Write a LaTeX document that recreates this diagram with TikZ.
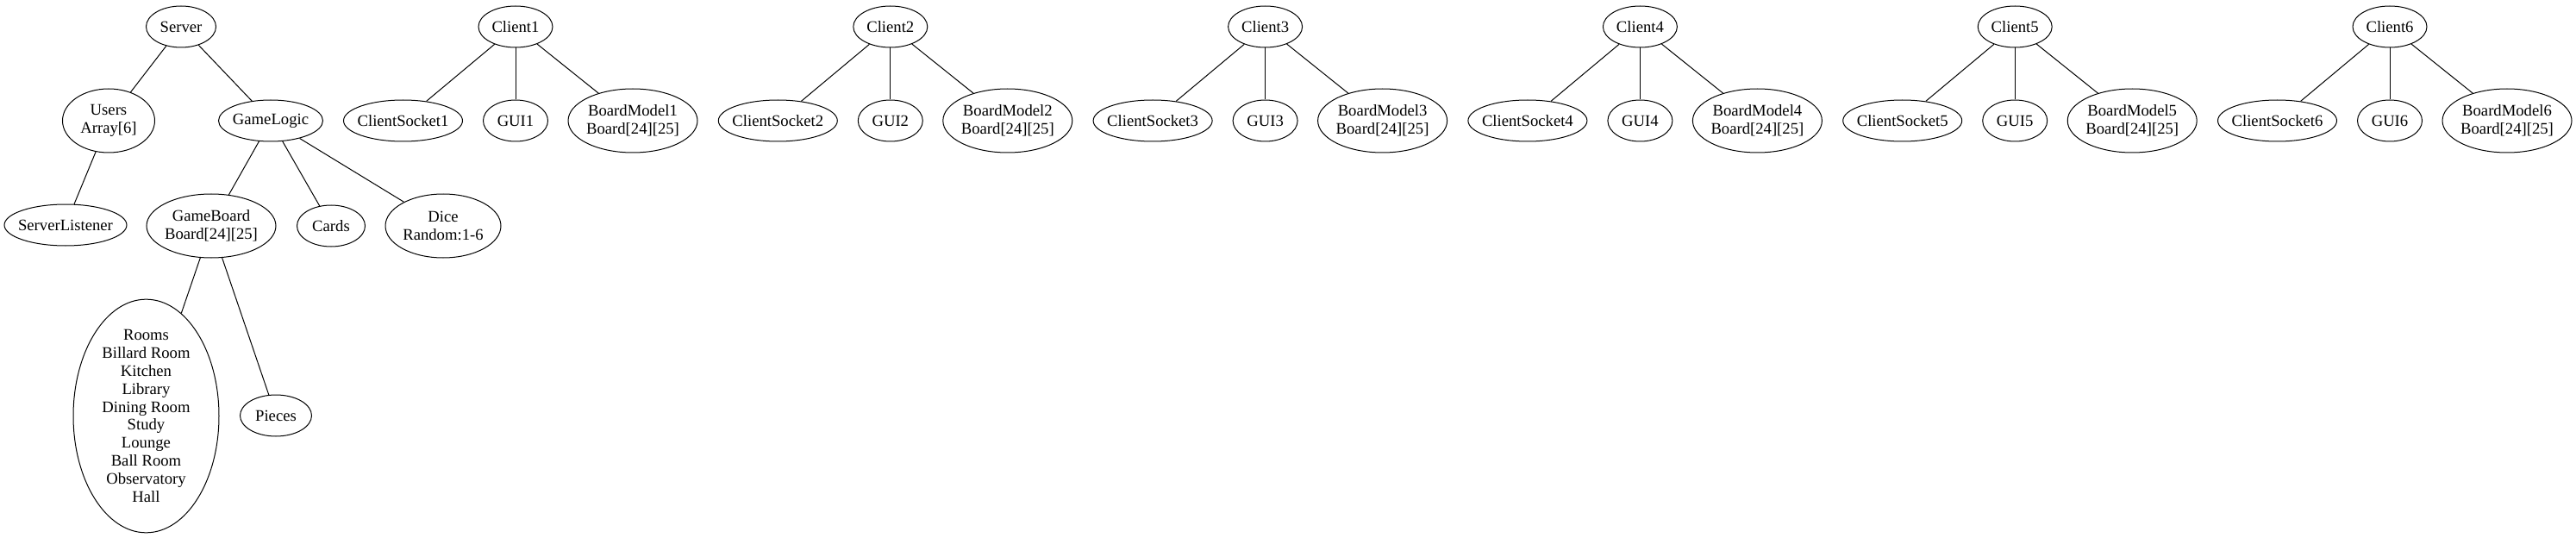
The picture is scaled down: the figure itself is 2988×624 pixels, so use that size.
\documentclass[tikz,border=0pt]{standalone}
\usepackage{fontspec}
\setmainfont{Liberation Serif}
\usetikzlibrary{shapes.geometric}

\tikzset{
  obj/.style={ellipse, draw, line width=0.75pt, inner sep=-100pt, align=center,
    font=\fontsize{14}{15.7}\selectfont, minimum height=36pt},
  tall/.style={obj, minimum height=55.5pt},
  wide/.style={minimum width=#1*0.75pt},
}

\begin{document}
\begin{tikzpicture}[x=0.75pt,y=-0.75pt,line width=0.75pt]
\useasboundingbox (0,0) rectangle (2988,624);
% server side
\node[obj,wide=81](server) at (210,31){Server};
\node[tall,wide=107](users) at (126,140){Users\\Array[6]};
\node[obj,wide=121](gamelogic) at (314,140){GameLogic};
\node[obj,wide=142](serverlistener) at (76,261){ServerListener};
\node[tall,wide=150](gameboard) at (245,262){GameBoard\\Board[24][25]};
\node[obj,wide=79](cards) at (384,262){Cards};
\node[tall,wide=134](dice) at (514,262){Dice\\Random:1-6};
\node[obj,wide=169,minimum height=203pt](rooms) at (169.5,482.5){Rooms\\Billard Room\\Kitchen\\Library\\Dining Room\\Study\\Lounge\\Ball Room\\Observatory\\Hall};
\node[obj,wide=83](pieces) at (320,482){Pieces};
\foreach \from/\to in {server/users,server/gamelogic,users/serverlistener,gamelogic/gameboard,gamelogic/cards,gamelogic/dice,gameboard/rooms,gameboard/pieces}
 \draw (\from) -- (\to);
% clients
\foreach \i in {1,...,6}{
 \pgfmathsetmacro\cx{598+434.8*(\i-1)}
 \node[obj,wide=86](client\i) at (\cx,31){Client\i};
 \node[obj,wide=138](socket\i) at (\cx-130.5,140){ClientSocket\i};
 \node[obj,wide=75](gui\i) at (\cx,140){GUI\i};
 \node[tall,wide=150](model\i) at (\cx+136,140){BoardModel\i\\Board[24][25]};
 \foreach \to in {socket,gui,model}
  \draw (client\i) -- (\to\i);
}
\end{tikzpicture}
\end{document}
